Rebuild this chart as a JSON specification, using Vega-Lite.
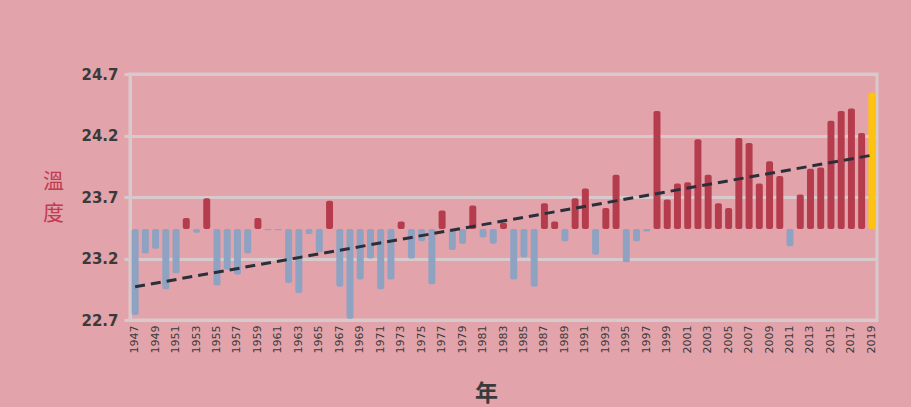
{
  "$schema": "https://vega.github.io/schema/vega-lite/v6.json",
  "width": 747,
  "height": 246,
  "autosize": {"type": "none"},
  "padding": {"left": 130, "top": 74, "right": 34, "bottom": 87},
  "background": "#e2a3ab",
  "config": {
    "view": {"stroke": "#d8cacc", "strokeWidth": 3},
    "axis": {"grid": false}
  },
  "datasets": {
    "temps": [
      {"year": 1947, "temp": 22.74}, {"year": 1948, "temp": 23.24}, {"year": 1949, "temp": 23.28},
      {"year": 1950, "temp": 22.95}, {"year": 1951, "temp": 23.08}, {"year": 1952, "temp": 23.53},
      {"year": 1953, "temp": 23.41}, {"year": 1954, "temp": 23.69}, {"year": 1955, "temp": 22.98},
      {"year": 1956, "temp": 23.11}, {"year": 1957, "temp": 23.07}, {"year": 1958, "temp": 23.24},
      {"year": 1959, "temp": 23.53}, {"year": 1960, "temp": 23.43}, {"year": 1961, "temp": 23.43},
      {"year": 1962, "temp": 23.00}, {"year": 1963, "temp": 22.92}, {"year": 1964, "temp": 23.40},
      {"year": 1965, "temp": 23.25}, {"year": 1966, "temp": 23.67}, {"year": 1967, "temp": 22.97},
      {"year": 1968, "temp": 22.71}, {"year": 1969, "temp": 23.03}, {"year": 1970, "temp": 23.20},
      {"year": 1971, "temp": 22.95}, {"year": 1972, "temp": 23.03}, {"year": 1973, "temp": 23.50},
      {"year": 1974, "temp": 23.20}, {"year": 1975, "temp": 23.34}, {"year": 1976, "temp": 22.99},
      {"year": 1977, "temp": 23.59}, {"year": 1978, "temp": 23.27}, {"year": 1979, "temp": 23.32},
      {"year": 1980, "temp": 23.63}, {"year": 1981, "temp": 23.37}, {"year": 1982, "temp": 23.32},
      {"year": 1983, "temp": 23.49}, {"year": 1984, "temp": 23.03}, {"year": 1985, "temp": 23.21},
      {"year": 1986, "temp": 22.97}, {"year": 1987, "temp": 23.65}, {"year": 1988, "temp": 23.50},
      {"year": 1989, "temp": 23.34}, {"year": 1990, "temp": 23.69}, {"year": 1991, "temp": 23.77},
      {"year": 1992, "temp": 23.23}, {"year": 1993, "temp": 23.61}, {"year": 1994, "temp": 23.88},
      {"year": 1995, "temp": 23.17}, {"year": 1996, "temp": 23.34}, {"year": 1997, "temp": 23.42},
      {"year": 1998, "temp": 24.40}, {"year": 1999, "temp": 23.68}, {"year": 2000, "temp": 23.81},
      {"year": 2001, "temp": 23.82}, {"year": 2002, "temp": 24.17}, {"year": 2003, "temp": 23.88},
      {"year": 2004, "temp": 23.65}, {"year": 2005, "temp": 23.61}, {"year": 2006, "temp": 24.18},
      {"year": 2007, "temp": 24.14}, {"year": 2008, "temp": 23.81}, {"year": 2009, "temp": 23.99},
      {"year": 2010, "temp": 23.87}, {"year": 2011, "temp": 23.30}, {"year": 2012, "temp": 23.72},
      {"year": 2013, "temp": 23.93}, {"year": 2014, "temp": 23.94}, {"year": 2015, "temp": 24.32},
      {"year": 2016, "temp": 24.40}, {"year": 2017, "temp": 24.42}, {"year": 2018, "temp": 24.22},
      {"year": 2019, "temp": 24.55}
    ],
    "trend": [
      {"year": 1947, "temp": 22.97},
      {"year": 2019, "temp": 24.04}
    ]
  },
  "layer": [
    {
      "mark": {"type": "rule", "color": "#d8cacc", "strokeWidth": 3},
      "encoding": {
        "y": {"datum": 23.44, "type": "quantitative"}
      }
    },
    {
      "data": {"name": "temps"},
      "mark": {"type": "bar", "cornerRadius": 2},
      "encoding": {
        "x": {
          "field": "year",
          "type": "ordinal",
          "scale": {"paddingInner": 0.32, "paddingOuter": 0.16},
          "axis": {
            "values": [1947,1949,1951,1953,1955,1957,1959,1961,1963,1965,1967,1969,1971,1973,1975,1977,1979,1981,1983,1985,1987,1989,1991,1993,1995,1997,1999,2001,2003,2005,2007,2009,2011,2013,2015,2017,2019],
            "labelAngle": -90,
            "labelFont": "DejaVu Sans",
            "labelFontSize": 11,
            "labelColor": "#3a3a3a",
            "ticks": false,
            "labelPadding": 5,
            "domainColor": "#d8cacc",
            "domainWidth": 3,
            "title": "年",
            "titleFont": "Noto Sans CJK TC",
            "titleFontSize": 23,
            "titleFontWeight": "bold",
            "titleColor": "#3a3a3a",
            "titleX": 356,
            "titleY": 73,
            "titleAlign": "center",
            "titleBaseline": "middle"
          }
        },
        "y": {
          "field": "temp",
          "type": "quantitative",
          "scale": {"domain": [22.7, 24.7], "nice": false, "zero": false},
          "axis": {
            "values": [22.7, 23.2, 23.7, 24.2, 24.7],
            "format": ".1f",
            "labelFont": "DejaVu Sans",
            "labelFontSize": 15,
            "labelFontWeight": "bold",
            "labelColor": "#3a3a3a",
            "tickColor": "#d8cacc",
            "tickSize": 6,
            "tickWidth": 3,
            "labelPadding": 6,
            "domainColor": "#d8cacc",
            "domainWidth": 3,
            "grid": true,
            "gridColor": "#d8cacc",
            "gridWidth": 3,
            "title": ["溫", "度"],
            "titleAngle": 0,
            "titleX": -77,
            "titleY": 107,
            "titleAlign": "center",
            "titleBaseline": "middle",
            "titleFont": "Noto Sans CJK TC",
            "titleFontSize": 21,
            "titleFontWeight": "normal",
            "titleColor": "#c23b4e",
            "titleLineHeight": 32
          }
        },
        "y2": {"datum": 23.44},
        "color": {
          "condition": [
            {"test": "datum.year == 2019", "value": "#ffc20e"},
            {"test": "datum.temp >= 23.44", "value": "#b53c4c"}
          ],
          "value": "#8ea2c2"
        }
      }
    },
    {
      "data": {"name": "trend"},
      "mark": {"type": "line", "color": "#2a2f3a", "strokeWidth": 3, "strokeDash": [10, 6]},
      "encoding": {
        "x": {"field": "year", "type": "ordinal"},
        "y": {"field": "temp", "type": "quantitative"}
      }
    }
  ]
}
